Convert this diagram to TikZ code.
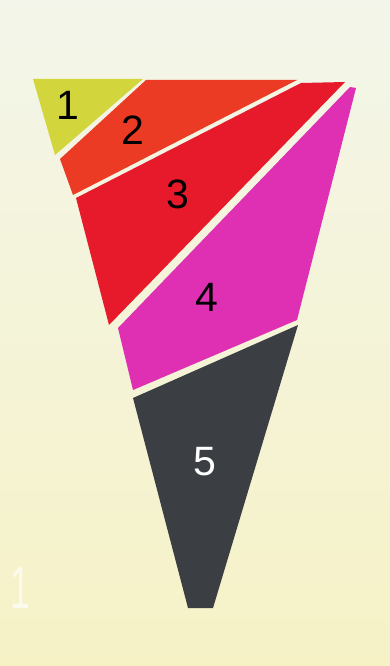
\documentclass[tikz,border=0pt]{standalone}
\usepackage{fontspec}
\setmainfont{Liberation Sans}
\usepackage{xcolor}
\usepackage{tikz}
\usetikzlibrary{positioning}
\definecolor{papertop}{HTML}{F3F5EA}
\definecolor{paperbot}{HTML}{F6F2C6}
\definecolor{pieceyellow}{HTML}{D3D53C}
\definecolor{pieceorange}{HTML}{EC3B24}
\definecolor{piecered}{HTML}{E71A2B}
\definecolor{piecepink}{HTML}{DF2FB3}
\definecolor{piecedark}{HTML}{3B3E43}

\tikzset{
  piece/.style={draw=none},
  num/.style={font=\fontsize{41}{43}\selectfont, inner sep=0pt}
}

\begin{document}
\begin{tikzpicture}[x=1pt, y=-1pt]
    % paper
    \fill[top color=papertop, bottom color=paperbot] (0,0) rectangle (390,666);
    \useasboundingbox (0,0) rectangle (390,666);

    % the five strips
    \fill[piece, pieceyellow] (33,79) -- (143,79) -- (55,155) -- cycle;
    \fill[piece, pieceorange] (146,80) -- (297,80) -- (73,195) -- (60,159) -- cycle;
    \fill[piece, piecered] (76,198) -- (301,83) -- (345,82) -- (109,325) -- cycle;
    \fill[piece, piecepink] (118,328) -- (350,87) -- (356,88) -- (297,320) -- (133,390) -- cycle;
    \fill[piece, piecedark] (133,398) -- (298,325) -- (213,608) -- (188,608) -- cycle;

    % numbers
    \node[num] (one) at (68,105) {1};
    \node[num] (two) at (133,130) {2};
    \node[num] (three) at (178,194) {3};
    \node[num] (four) at (207,297) {4};
    \node[num, white] (five) at (205,462) {5};
    \node[font=\fontsize{60}{62}\selectfont, white, opacity=0.65, xscale=0.6, inner sep=0pt] (page) at (21,588) {1};
\end{tikzpicture}
\end{document}
